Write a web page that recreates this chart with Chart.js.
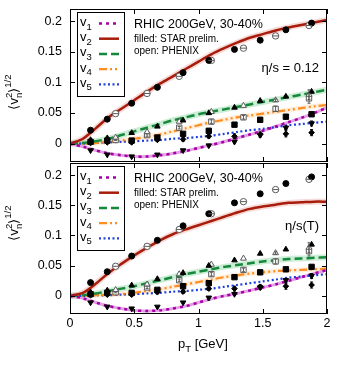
<!DOCTYPE html>
<html>
<head>
<meta charset="utf-8">
<title>RHIC 200GeV vn</title>
<script src="https://cdn.jsdelivr.net/npm/chart.js@4.4.1/dist/chart.umd.min.js"></script>
<style>
  body { margin: 0; background: #fff; }
  #wrap { position: relative; width: 350px; height: 368px; }
  canvas { position: absolute; left: 0; }
</style>
</head>
<body>
<div id="wrap">
  <canvas id="panel-top" width="350" height="163" style="top:0"></canvas>
  <canvas id="panel-bottom" width="350" height="205" style="top:163px"></canvas>
</div>
<script>

var pt = [0, 0.1, 0.2, 0.3, 0.4, 0.5, 0.6, 0.7, 0.8, 0.9, 1.0, 1.1, 1.2, 1.3, 1.4, 1.5, 1.6, 1.7, 1.8, 1.9, 2.0];
var xTicks = [0, 0.5, 1, 1.5, 2];
var yTicks = [0, 0.05, 0.1, 0.15, 0.2];

// hydro curves, eta/s = 0.12
var v1Const = [0, -0.005, -0.011, -0.016, -0.019, -0.021, -0.021, -0.019, -0.016, -0.012, -0.007, -0.002, 0.003, 0.009, 0.015, 0.021, 0.028, 0.035, 0.042, 0.050, 0.059];
var v2Const = [0, 0.008, 0.025, 0.043, 0.057, 0.071, 0.085, 0.098, 0.110, 0.122, 0.134, 0.146, 0.156, 0.165, 0.173, 0.179, 0.185, 0.190, 0.194, 0.198, 0.202];
var v3Const = [0, 0.001, 0.004, 0.008, 0.014, 0.020, 0.026, 0.032, 0.038, 0.043, 0.048, 0.052, 0.056, 0.060, 0.064, 0.068, 0.072, 0.076, 0.080, 0.084, 0.088];
var v4Const = [0, 0, 0.001, 0.003, 0.005, 0.008, 0.011, 0.015, 0.020, 0.025, 0.030, 0.035, 0.039, 0.043, 0.046, 0.049, 0.052, 0.055, 0.058, 0.061, 0.063];
var v5Const = [0, 0, 0.001, 0.002, 0.003, 0.004, 0.005, 0.006, 0.008, 0.009, 0.011, 0.013, 0.016, 0.019, 0.022, 0.024, 0.027, 0.030, 0.032, 0.034, 0.036];

// hydro curves, eta/s(T)
var v1Temp = [0, -0.004, -0.011, -0.017, -0.021, -0.024, -0.025, -0.024, -0.021, -0.017, -0.011, -0.005, 0, 0.004, 0.009, 0.014, 0.019, 0.025, 0.031, 0.037, 0.043];
var v2Temp = [0, 0.005, 0.020, 0.038, 0.053, 0.067, 0.080, 0.092, 0.102, 0.110, 0.117, 0.124, 0.131, 0.138, 0.144, 0.148, 0.151, 0.154, 0.155, 0.156, 0.156];
var v3Temp = [0, 0.001, 0.004, 0.008, 0.012, 0.016, 0.021, 0.026, 0.031, 0.036, 0.040, 0.044, 0.048, 0.051, 0.054, 0.057, 0.059, 0.061, 0.062, 0.063, 0.064];
var v4Temp = [0, 0, 0.001, 0.002, 0.003, 0.005, 0.008, 0.011, 0.015, 0.019, 0.023, 0.027, 0.031, 0.034, 0.037, 0.039, 0.041, 0.042, 0.043, 0.044, 0.045];
var v5Temp = [0, 0, 0.001, 0.001, 0.002, 0.003, 0.004, 0.005, 0.007, 0.008, 0.010, 0.012, 0.015, 0.018, 0.021, 0.024, 0.027, 0.030, 0.032, 0.034, 0.036];

// STAR prelim. (filled)
var starPt = [0.16, 0.29, 0.48, 0.68, 0.88, 1.08, 1.28, 1.48, 1.68, 1.88];
var starV1 = [-0.011, -0.018, -0.021, -0.018, -0.011, -0.003, 0.003, 0.014, 0.026, 0.033];
var starV2 = [0.022, 0.040, 0.066, 0.092, 0.116, 0.136, 0.154, 0.169, 0.186, 0.197];
var starV3 = [0.006, 0.009, 0.0175, 0.028, 0.038, 0.050, 0.059, 0.070, 0.077, 0.085];
var starV4 = [0.003, 0.005, 0.005, 0.010, 0.016, 0.021, 0.031, 0.039, 0.044, 0.048];
var starV5 = [0.001, 0.002, 0.002, 0.006, 0.007, 0.012, 0.012, 0.015, 0.016, 0.018];
var starV1Err = [0, 0, 0, 0, 0, 0.002, 0.002, 0.003, 0.003, 0.004];
var starV5Err = [0.001, 0.001, 0.002, 0.002, 0.003, 0.003, 0.004, 0.004, 0.005, 0.005];

// PHENIX (open)
var phxPt = [0.355, 0.60, 0.85, 1.10, 1.35, 1.60, 1.86];
var phxV2 = [0.049, 0.082, 0.110, 0.136, 0.156, 0.176, 0.193];
var phxV3 = [0.010, 0.019, 0.036, 0.052, 0.062, 0.071, 0.080];
var phxV4 = [0.006, 0.014, 0.026, 0.036, 0.043, 0.057, 0.074];
var phxV3Err = [0, 0, 0, 0, 0, 0.002, 0.008];
var phxV4Err = [0.001, 0.002, 0.002, 0.003, 0.003, 0.004, 0.008];

var curveStyle = [
  { color: '#a400a4', dash: [3, 4], width: 2.5, band: 'rgba(226,150,226,0.9)', bandWidth: 3 },
  { color: '#a81c0c', dash: [], width: 2.5, band: 'rgba(210,70,60,0.2)', bandWidth: 6 },
  { color: '#15893b', dash: [8, 4], width: 2.5, band: 'rgba(80,190,110,0.28)', bandWidth: 6 },
  { color: '#ff8c1e', dash: [8, 3, 2, 3, 2, 3], width: 2.2, band: 'rgba(255,170,80,0.2)', bandWidth: 5 },
  { color: '#1e3ee0', dash: [2, 2.5], width: 2.2, band: null }
];

var FONT = "'Liberation Sans', Arial, sans-serif";
Chart.defaults.font.family = FONT;
Chart.defaults.color = '#000';

function xy(xs, ys) {
  return xs.map(function (x, k) { return { x: x, y: ys[k] }; });
}

function curveSets(curves) {
  var sets = [];
  curves.forEach(function (ys, i) {
    var st = curveStyle[i];
    if (st.band) {
      sets.push({ data: xy(pt, ys), showLine: true, pointRadius: 0, borderColor: st.band,
        borderWidth: st.bandWidth, tension: 0.3, order: 3 });
    }
    sets.push({ data: xy(pt, ys), showLine: true, pointRadius: 0, borderColor: st.color,
      borderWidth: st.width, borderDash: st.dash, tension: 0.3, order: 2 });
  });
  return sets;
}

function markerSets() {
  var grey = '#5a5a5a';
  return [
    { data: xy(phxPt, phxV2), pointStyle: 'circle', pointRadius: 3.2, backgroundColor: '#fff', borderColor: grey, borderWidth: 1, order: 1 },
    { data: xy(phxPt, phxV2), pointStyle: 'line', pointRadius: 3, borderColor: grey, borderWidth: 1, order: 0 },
    { data: xy(phxPt, phxV3), pointStyle: 'triangle', pointRadius: 3.4, backgroundColor: '#fff', borderColor: grey, borderWidth: 1, errY: phxV3Err, order: 1 },
    { data: xy(phxPt, phxV4), pointStyle: 'rect', pointRadius: 3.8, backgroundColor: '#fff', borderColor: grey, borderWidth: 1, errY: phxV4Err, order: 1 },
    { data: xy(starPt, starV2), pointStyle: 'circle', pointRadius: 3, backgroundColor: '#000', borderColor: '#000', borderWidth: 1, order: 0 },
    { data: xy(starPt, starV3), pointStyle: 'triangle', pointRadius: 3.2, backgroundColor: '#000', borderColor: '#000', borderWidth: 1, order: 0 },
    { data: xy(starPt, starV4), pointStyle: 'rect', pointRadius: 3.8, backgroundColor: '#000', borderColor: '#000', borderWidth: 1, order: 0 },
    { data: xy(starPt, starV5), pointStyle: 'rectRot', pointRadius: 2.8, backgroundColor: '#000', borderColor: '#000', borderWidth: 1, errY: starV5Err, order: 0 },
    { data: xy(starPt, starV1), pointStyle: 'triangle', pointRotation: 180, pointRadius: 3.2, backgroundColor: '#000', borderColor: '#000', borderWidth: 1, errY: starV1Err, order: 0 }
  ];
}

/**
 * vertical error bars for datasets carrying errY
 */
var errorBars = {
  id: 'errorBars',
  afterDatasetsDraw: function (chart) {
    var ctx = chart.ctx, ys = chart.scales.y;
    chart.data.datasets.forEach(function (ds, i) {
      if (!ds.errY) return;
      var meta = chart.getDatasetMeta(i);
      ctx.save();
      ctx.strokeStyle = ds.borderColor;
      ctx.lineWidth = 1;
      meta.data.forEach(function (p, k) {
        var e = ds.errY[k];
        if (!e) return;
        var y1 = ys.getPixelForValue(ds.data[k].y + e);
        var y2 = ys.getPixelForValue(ds.data[k].y - e);
        ctx.beginPath();
        ctx.moveTo(p.x, y1); ctx.lineTo(p.x, y2);
        ctx.moveTo(p.x - 1.5, y1); ctx.lineTo(p.x + 1.5, y1);
        ctx.moveTo(p.x - 1.5, y2); ctx.lineTo(p.x + 1.5, y2);
        ctx.stroke();
      });
      ctx.restore();
    });
  }
};

/**
 * gnuplot like frame with inward ticks on all sides
 */
var frame = {
  id: 'frame',
  afterDatasetsDraw: function (chart) {
    var ctx = chart.ctx, a = chart.chartArea, xs = chart.scales.x, ys = chart.scales.y;
    ctx.save();
    ctx.strokeStyle = '#000';
    ctx.lineWidth = 1;
    ctx.strokeRect(a.left + 0.5, a.top + 0.5, a.right - a.left - 1, a.bottom - a.top - 1);
    ctx.beginPath();
    xTicks.forEach(function (v) {
      var x = Math.round(xs.getPixelForValue(v)) + 0.5;
      ctx.moveTo(x, a.bottom); ctx.lineTo(x, a.bottom - 5);
      ctx.moveTo(x, a.top); ctx.lineTo(x, a.top + 5);
    });
    yTicks.forEach(function (v) {
      var y = Math.round(ys.getPixelForValue(v)) + 0.5;
      ctx.moveTo(a.left, y); ctx.lineTo(a.left + 5, y);
      ctx.moveTo(a.right, y); ctx.lineTo(a.right - 5, y);
    });
    ctx.stroke();
    ctx.restore();
  }
};

function text(ctx, s, x, y, size, align) {
  ctx.font = size + 'px ' + FONT;
  ctx.textAlign = align || 'left';
  ctx.fillText(s, x, y);
  return ctx.measureText(s).width;
}

/**
 * legend, labels and axis titles
 */
var decor = {
  id: 'decor',
  afterDraw: function (chart, args, opts) {
    var ctx = chart.ctx, a = chart.chartArea, t = a.top;
    ctx.save();
    ctx.fillStyle = '#000';
    ctx.textBaseline = 'alphabetic';

    // legend box
    ctx.fillStyle = '#fff';
    ctx.fillRect(77.5, t + 3.5, 47, 84);
    ctx.strokeStyle = '#000';
    ctx.lineWidth = 1;
    ctx.strokeRect(77.5, t + 3.5, 47, 84);
    ctx.fillStyle = '#000';
    for (var i = 0; i < 5; i++) {
      var base = t + 17 + i * 15.2;
      var w = text(ctx, 'v', 80, base, 13);
      text(ctx, String(i + 1), 80 + w, base + 3.5, 9.5);
      var st = curveStyle[i];
      ctx.beginPath();
      ctx.strokeStyle = st.color;
      ctx.lineWidth = st.width;
      ctx.setLineDash(st.dash);
      ctx.moveTo(99, base - 2.5);
      ctx.lineTo(119, base - 2.5);
      ctx.stroke();
      ctx.setLineDash([]);
    }

    // annotation
    text(ctx, 'RHIC 200GeV, 30-40%', 134, t + 19, 12.5);
    text(ctx, 'filled: STAR prelim.', 134, t + 33, 10);
    text(ctx, 'open: PHENIX', 134, t + 45, 10);
    text(ctx, opts.label, 319, t + opts.labelY, 13, 'right');

    // y title  <v_n^2>^(1/2)
    ctx.save();
    ctx.translate(18, opts.titleY);
    ctx.rotate(-Math.PI / 2);
    var x = -23;
    x += text(ctx, '\u27e8v', x, 0, 13);
    var wn = text(ctx, 'n', x, 3.5, 9.5);
    var w2 = text(ctx, '2', x, -6.5, 9.5);
    x += Math.max(wn, w2);
    x += text(ctx, '\u27e9', x, 0, 13);
    text(ctx, '1/2', x, -7, 9.5);
    ctx.restore();

    // x title
    if (opts.xTitle) {
      var xs = 178, yb = a.bottom + 34;
      xs += text(ctx, 'p', xs, yb, 13);
      xs += text(ctx, 'T', xs, yb + 3.5, 9.5);
      text(ctx, ' [GeV]', xs, yb, 13);
    }
    ctx.restore();
  }
};

function noScalePadding(s) {
  s.paddingTop = 0;
  s.paddingBottom = 0;
  s.paddingLeft = 0;
  s.paddingRight = 0;
}

function panel(id, curves, opts) {
  var bottom = opts.xTitle;
  return new Chart(document.getElementById(id).getContext('2d'), {
    type: 'scatter',
    data: { datasets: curveSets(curves).concat(markerSets()) },
    options: {
      responsive: false,
      animation: false,
      events: [],
      layout: { autoPadding: false, padding: { left: 0, right: 23, top: opts.padTop, bottom: bottom ? 0 : 1 } },
      plugins: { legend: { display: false }, tooltip: { enabled: false }, decor: opts },
      scales: {
        x: {
          type: 'linear', min: 0, max: 2,
          display: bottom,
          grid: { display: false, drawTicks: false },
          border: { display: false },
          afterBuildTicks: function (s) { s.ticks = xTicks.map(function (v) { return { value: v }; }); },
          afterFit: function (s) { s.height = bottom ? 54 : 0; noScalePadding(s); },
          ticks: { font: { size: 12.5 }, padding: 2, maxRotation: 0,
            callback: function (v) { return String(v); } }
        },
        y: {
          type: 'linear', min: -0.03, max: 0.22,
          grid: { display: false, drawTicks: false },
          border: { display: false },
          afterBuildTicks: function (s) { s.ticks = yTicks.map(function (v) { return { value: v }; }); },
          afterFit: function (s) { s.width = 70; noScalePadding(s); },
          ticks: { font: { size: 12.5 }, padding: 8,
            callback: function (v) { return String(+v.toFixed(2)); } }
        }
      }
    },
    plugins: [errorBars, frame, decor]
  });
}

panel('panel-top', [v1Const, v2Const, v3Const, v4Const, v5Const],
  { label: '\u03b7/s = 0.12', labelY: 63, titleY: 86.5, padTop: 9, xTitle: false });
panel('panel-bottom', [v1Temp, v2Temp, v3Temp, v4Temp, v5Temp],
  { label: '\u03b7/s(T)', labelY: 67, titleY: 54.5, padTop: 0, xTitle: true });
</script>
</body>
</html>
